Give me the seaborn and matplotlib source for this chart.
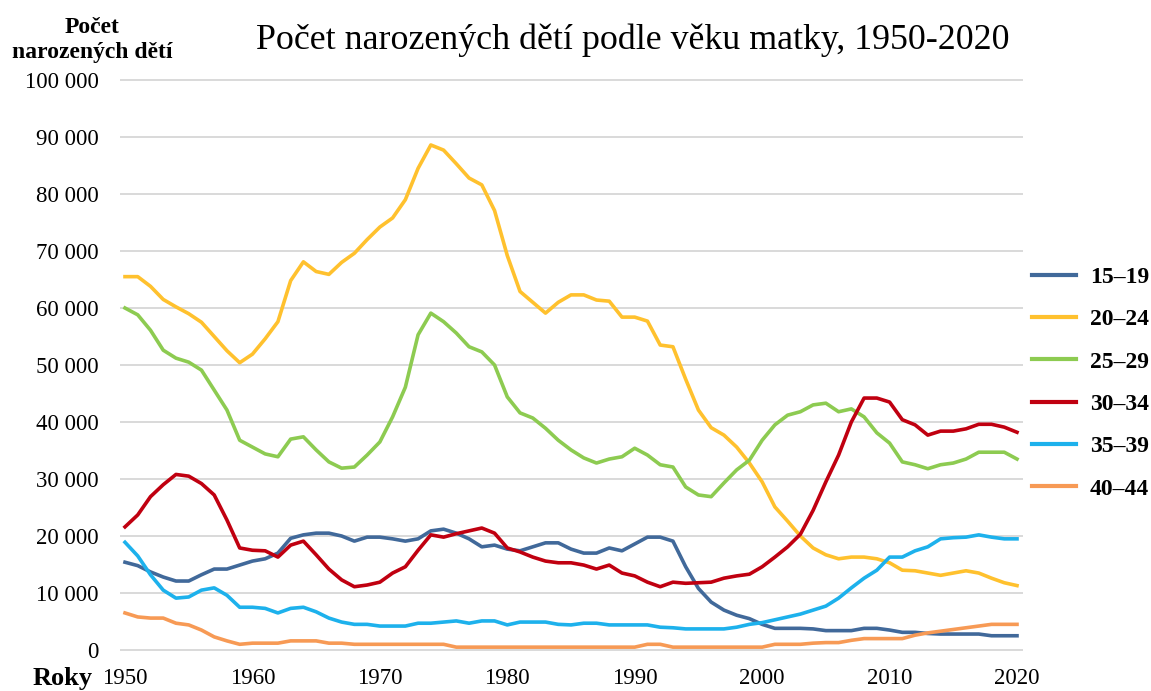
import matplotlib
matplotlib.use("Agg")
import matplotlib.pyplot as plt
import seaborn as sns
import pandas as pd
import numpy as np
from matplotlib.ticker import FuncFormatter, MultipleLocator

years = list(range(1950, 2021))

groups = ["15–19", "20–24", "25–29", "30–34", "35–39", "40–44"]
colors = ["#41699A", "#FFC12E", "#8DCB51", "#C00010", "#1DB1EC", "#F79A55"]

a15_19 = [15400, 14800, 13700, 12800, 12100, 12100, 13200, 14200, 14200, 14900,
          15600, 16000, 17000, 19600, 20200, 20500, 20500, 20000, 19100, 19800,
          19800, 19500, 19100, 19500, 20900, 21200, 20500, 19500, 18100, 18400,
          17700, 17400, 18100, 18800, 18800, 17700, 17000, 17000, 17900, 17400,
          18600, 19800, 19800, 19100, 14600, 10800, 8400, 7000, 6100, 5500,
          4500, 3800, 3800, 3800, 3700, 3400, 3400, 3400, 3800, 3800,
          3500, 3100, 3100, 2900, 2800, 2800, 2800, 2800, 2500, 2500,
          2500]
a20_24 = [65500, 65500, 63800, 61500, 60200, 59000, 57500, 55000, 52500, 50400,
          51900, 54600, 57600, 64800, 68100, 66400, 65900, 68000, 69600, 72000,
          74200, 75800, 79000, 84500, 88600, 87700, 85300, 82800, 81600, 77100,
          69200, 62900, 61000, 59100, 61000, 62300, 62300, 61400, 61200, 58400,
          58400, 57700, 53500, 53200, 47500, 42100, 39000, 37700, 35600, 32800,
          29500, 25100, 22600, 20000, 17900, 16700, 16000, 16300, 16300, 16000,
          15300, 14000, 13900, 13500, 13100, 13500, 13900, 13500, 12600, 11800,
          11300]
a25_29 = [60000, 58800, 56100, 52600, 51200, 50500, 49100, 45600, 42100, 36800,
          35600, 34400, 33900, 37000, 37400, 35100, 33000, 31900, 32100, 34200,
          36500, 40900, 46100, 55300, 59100, 57600, 55600, 53200, 52300, 50000,
          44400, 41600, 40700, 38900, 36800, 35100, 33700, 32800, 33500, 33900,
          35400, 34200, 32500, 32100, 28600, 27200, 26900, 29300, 31600, 33300,
          36800, 39500, 41200, 41800, 43000, 43300, 41800, 42300, 40900, 38100,
          36300, 33000, 32500, 31800, 32500, 32800, 33500, 34700, 34700, 34700,
          33500]
a30_34 = [21600, 23700, 26900, 29000, 30800, 30500, 29200, 27200, 22800, 17900,
          17500, 17400, 16300, 18400, 19100, 16700, 14200, 12300, 11100, 11400,
          11900, 13500, 14600, 17500, 20200, 19800, 20400, 20900, 21400, 20500,
          17900, 17200, 16300, 15600, 15300, 15300, 14900, 14200, 14900, 13500,
          13000, 11900, 11100, 11900, 11700, 11800, 11900, 12600, 13000, 13300,
          14600, 16300, 18100, 20300, 24500, 29500, 34200, 40000, 44200, 44200,
          43500, 40400, 39500, 37700, 38400, 38400, 38800, 39600, 39600, 39100,
          38200]
a35_39 = [18900, 16500, 13200, 10500, 9100, 9300, 10500, 10900, 9600, 7500,
          7500, 7300, 6500, 7300, 7500, 6700, 5600, 4900, 4500, 4500,
          4200, 4200, 4200, 4700, 4700, 4900, 5100, 4700, 5100, 5100,
          4400, 4900, 4900, 4900, 4500, 4400, 4700, 4700, 4400, 4400,
          4400, 4400, 4000, 3900, 3700, 3700, 3700, 3700, 4000, 4500,
          4800, 5300, 5800, 6300, 7000, 7700, 9100, 10900, 12600, 14000,
          16300, 16300, 17400, 18100, 19500, 19700, 19800, 20200, 19800, 19500,
          19500]
a40_44 = [6500, 5800, 5600, 5600, 4700, 4400, 3500, 2300, 1600, 1000,
          1200, 1200, 1200, 1600, 1600, 1600, 1200, 1200, 1000, 1000,
          1000, 1000, 1000, 1000, 1000, 1000, 500, 500, 500, 500,
          500, 500, 500, 500, 500, 500, 500, 500, 500, 500,
          500, 1000, 1000, 500, 500, 500, 500, 500, 500, 500,
          500, 1000, 1000, 1000, 1200, 1300, 1300, 1700, 2000, 2000,
          2000, 2000, 2600, 3000, 3300, 3600, 3900, 4200, 4500, 4500,
          4500]

series = [a15_19, a20_24, a25_29, a30_34, a35_39, a40_44]
frames = []
for g, s in zip(groups, series):
    frames.append(pd.DataFrame({"Rok": years, "Počet": s, "Věk": g}))
df = pd.concat(frames, ignore_index=True)

W, H = 1151, 691
fig = plt.figure(figsize=(W / 100, H / 100), dpi=100)
serif = ["Liberation Serif", "DejaVu Serif"]
plt.rcParams["font.family"] = serif

ax_left, ax_right = 120 / W, 1023 / W
ax_bottom = 1 - 652.85 / H
ax_top = 1 - 77.15 / H
ax = fig.add_axes([ax_left, ax_bottom, ax_right - ax_left, ax_top - ax_bottom])

sns.lineplot(data=df, x="Rok", y="Počet", hue="Věk", hue_order=groups,
             palette=colors, linewidth=2.6, ax=ax, legend=True)

ax.set_xlim(1950 - 5 / 12.743, 2020 + 6 / 12.743)
ax.set_ylim(-500, 100500)
ax.yaxis.set_major_locator(MultipleLocator(10000))
ax.xaxis.set_major_locator(MultipleLocator(10))
ax.yaxis.set_major_formatter(FuncFormatter(lambda v, p: f"{int(v):,}".replace(",", " ")))
ax.grid(axis="y", color="#D9D9D9", linewidth=1.4)
ax.grid(axis="x", visible=False)
ax.set_axisbelow(True)
for sp in ax.spines.values():
    sp.set_visible(False)
ax.tick_params(axis="both", length=0, labelsize=16.5)
ax.tick_params(axis="y", pad=15.5)
ax.tick_params(axis="x", pad=11)
ax.set_xlabel("")
ax.set_ylabel("")
ax.set_facecolor("white")

handles, labels = ax.get_legend_handles_labels()
leg = ax.legend(handles, labels, loc="center left",
                bbox_to_anchor=(1032 / W, 1 - 383 / H), bbox_transform=fig.transFigure,
                frameon=False, borderpad=0, borderaxespad=0,
                handlelength=1.85, handletextpad=0.6, labelspacing=0.88,
                prop={"family": serif, "weight": "bold", "size": 17})
for ln in leg.get_lines():
    ln.set_linewidth(3.0)

fig.text(632.5 / W, 1 - 49 / H, "Počet narozených dětí podle věku matky, 1950-2020",
         ha="center", va="baseline", fontsize=25.8, family=serif)
fig.text(92 / W, 1 - 33 / H, "Počet", ha="center", va="baseline",
         fontsize=17, fontweight="bold", family=serif)
fig.text(92 / W, 1 - 58 / H, "narozených dětí", ha="center", va="baseline",
         fontsize=17, fontweight="bold", family=serif)
fig.text(93 / W, 1 - 685 / H, "Roky", ha="right", va="baseline",
         fontsize=19, fontweight="bold", family=serif)

fig.savefig("out.png", dpi=100, facecolor="white")
